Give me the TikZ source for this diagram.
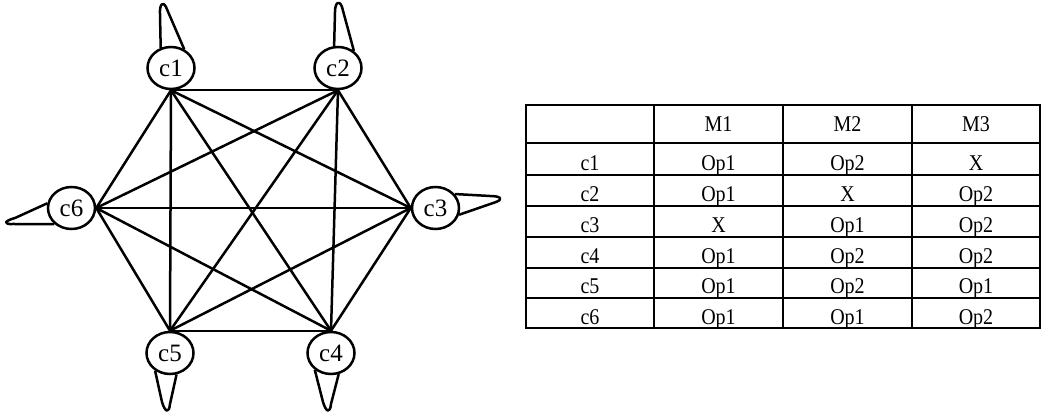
\documentclass[tikz,border=0pt]{standalone}
\usepackage{fontspec}
\setmainfont{Liberation Serif}
\newfontfamily\tabfont[FakeStretch=0.89]{Liberation Serif}
\usetikzlibrary{shapes.geometric}
\tikzset{
  cnode/.style={ellipse, draw, line width=2.5pt, minimum width=47pt, minimum height=42pt, inner sep=0pt, font=\fontsize{25}{25}\selectfont},
  edge/.style={line width=2.5pt},
  loopline/.style={line width=2.5pt, line join=round},
  grid/.style={line width=2.5pt},
  cell/.style={anchor=base, inner sep=0pt, font=\tabfont\fontsize{22.5}{22.5}\selectfont}
}
\begin{document}
\begin{tikzpicture}[x=1pt,y=-1pt]
\useasboundingbox (0,0) rectangle (1042,414);
% nodes
\node[cnode] (c1) at (171,68) {c1};
\node[cnode] (c2) at (338,68) {c2};
\node[cnode] (c3) at (435.5,208) {c3};
\node[cnode] (c4) at (331,353) {c4};
\node[cnode] (c5) at (170,353) {c5};
\node[cnode] (c6) at (71.5,208) {c6};
% edges (complete graph)
\draw[edge] (c1.south) -- (c2.south);
\draw[edge] (c1.south) -- (c3.west);
\draw[edge] (c1.south) -- (c4.north);
\draw[edge] (c1.south) -- (c5.north);
\draw[edge] (c1.south) -- (c6.east);
\draw[edge] (c2.south) -- (c3.west);
\draw[edge] (c2.south) -- (c4.north);
\draw[edge] (c2.south) -- (c5.north);
\draw[edge] (c2.south) -- (c6.east);
\draw[edge] (c3.west) -- (c4.north);
\draw[edge] (c3.west) -- (c5.north);
\draw[edge] (c3.west) -- (c6.east);
\draw[edge] (c4.north) -- (c5.north);
\draw[edge] (c4.north) -- (c6.east);
\draw[edge] (c5.north) -- (c6.east);
% self loops
\draw[loopline] (c1.117) -- (160,14) .. controls (159.5,4) and (163,1) .. (166,7) -- (c1.55);
\draw[loopline] (c2.100) -- (335,12) .. controls (335,3) and (339,-1) .. (342,7) -- (c2.47);
\draw[loopline] (c3.36) -- (490,196) .. controls (500,196) and (504,199) .. (496,202) -- (c3.-16);
\draw[loopline] (c4.226) -- (323,402) .. controls (326,412) and (330,414) .. (331,404) -- (c4.290);
\draw[loopline] (c5.230) -- (162,402) .. controls (165,412) and (169,414) .. (170,404) -- (c5.287);
\draw[loopline] (c6.169) -- (15,218) .. controls (4,221) and (3,224.5) .. (13,224) -- (c6.223);
% table grid
\draw[grid] (526,105) rectangle (1040,328);
\foreach \yy in {143,175,206,237,268,298} \draw[grid] (526,\yy) -- (1040,\yy);
\foreach \xx in {654,783,912} \draw[grid] (\xx,105) -- (\xx,328);
% table header
\node[cell] (hm1) at (718.5,132) {M1};
\node[cell] (hm2) at (847.5,132) {M2};
\node[cell] (hm3) at (976,132) {M3};
% table rows
\foreach \r/\yb/\a/\b/\c/\d in {1/171/c1/Op1/Op2/X, 2/202/c2/Op1/X/Op2, 3/233/c3/X/Op1/Op2, 4/264/c4/Op1/Op2/Op2, 5/294/c5/Op1/Op2/Op1, 6/324/c6/Op1/Op1/Op2}{
  \node[cell] (r\r a) at (590,\yb) {\a};
  \node[cell] (r\r b) at (718.5,\yb) {\b};
  \node[cell] (r\r c) at (847.5,\yb) {\c};
  \node[cell] (r\r d) at (976,\yb) {\d};
}
\end{tikzpicture}
\end{document}
